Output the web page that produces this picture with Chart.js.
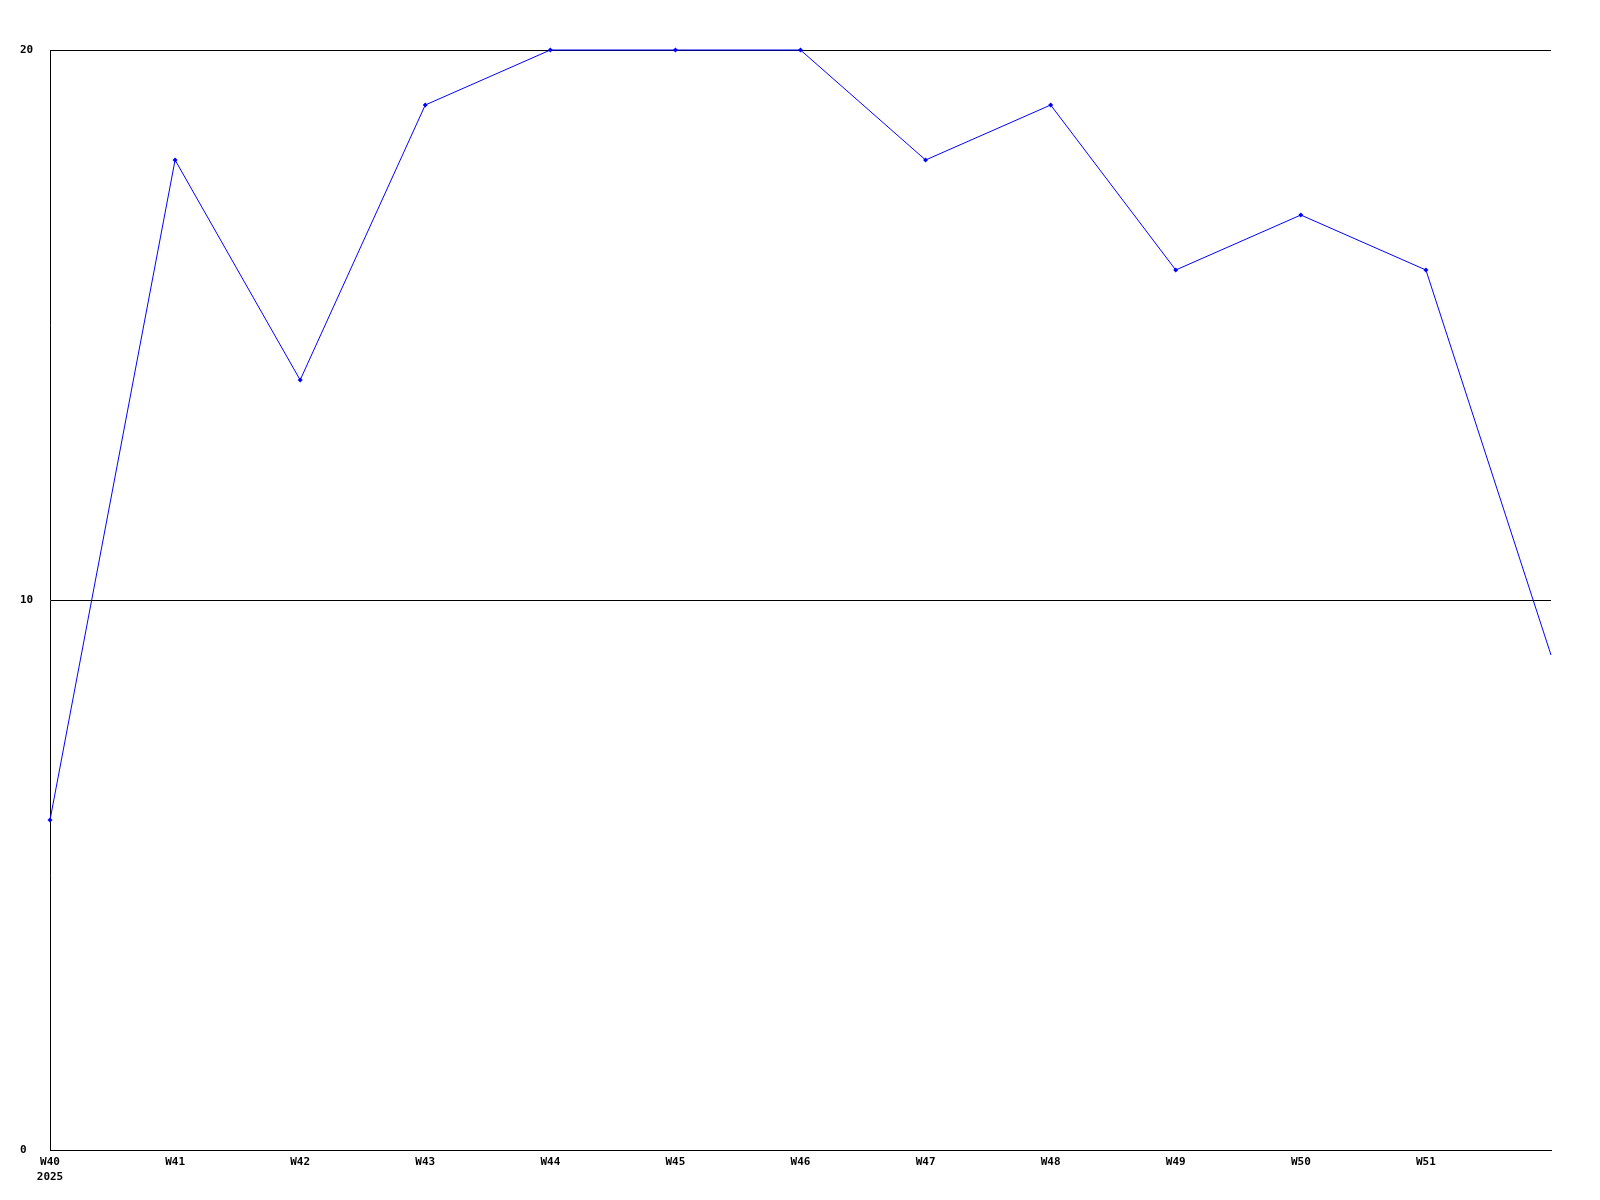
<!DOCTYPE html>
<html>
<head>
<meta charset="utf-8">
<script src="https://cdn.jsdelivr.net/npm/chart.js@4/dist/chart.umd.min.js"></script>
<style>
  html, body { margin: 0; padding: 0; background: #fff; }
  #wrap { width: 1600px; height: 1200px; }
</style>
</head>
<body>
<div id="wrap"><canvas id="chart" width="1600" height="1200"></canvas></div>
<script>
// weekly values
const weekLabels = [['W40', '2025'], 'W41', 'W42', 'W43', 'W44', 'W45', 'W46', 'W47', 'W48', 'W49', 'W50', 'W51', ''];
const weekValues = [6, 18, 14, 19, 20, 20, 20, 18, 19, 16, 17, 16, 9];
const yTicks = [0, 10, 20];

const tickFont = { family: '"DejaVu Sans Mono", monospace', size: 11, weight: 'bold', lineHeight: 1.36 };

const ctx = document.getElementById('chart').getContext('2d');
new Chart(ctx, {
    type: 'line',
    data: {
        labels: weekLabels,
        datasets: [{
            data: weekValues,
            borderColor: '#0000ff',
            backgroundColor: '#0000ff',
            borderWidth: 1,
            pointStyle: 'rectRot',
            // the last point (unlabelled week) has no marker
            pointRadius: (c) => c.dataIndex === weekValues.length - 1 ? 0 : 2.5,
            pointBorderWidth: 0,
            tension: 0,
            fill: false,
            clip: false
        }]
    },
    options: {
        responsive: false,
        animation: false,
        devicePixelRatio: 1,
        layout: { padding: { top: 50, right: 49, left: 20, bottom: 0 } },
        plugins: {
            legend: { display: false },
            tooltip: { enabled: false }
        },
        scales: {
            x: {
                offset: false,
                grid: { display: false, drawTicks: false },
                border: { display: true, color: '#000', width: 1 },
                ticks: {
                    color: '#000',
                    font: tickFont,
                    padding: 5,
                    maxRotation: 0,
                    autoSkip: false
                },
                afterFit: (scale) => { scale.height = 50; }
            },
            y: {
                min: 0,
                max: 20,
                z: 1,
                afterBuildTicks: (scale) => { scale.ticks = yTicks.map(v => ({ value: v })); },
                grid: { color: '#000', lineWidth: 1, drawTicks: false },
                border: { display: true, color: '#000', width: 1 },
                ticks: {
                    color: '#000',
                    font: tickFont,
                    crossAlign: 'far',
                    padding: 4
                },
                afterFit: (scale) => { scale.width = 30; }
            }
        }
    }
});
</script>
</body>
</html>
